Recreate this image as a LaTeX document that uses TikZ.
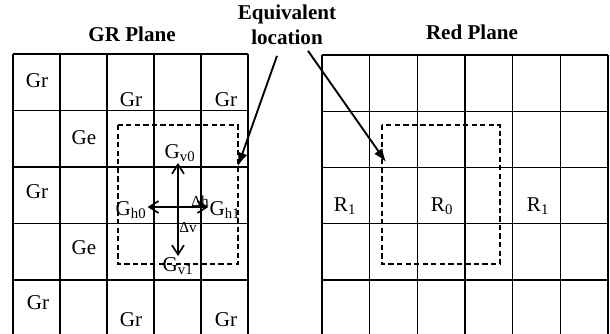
\documentclass[tikz,border=0pt]{standalone}
\usepackage{fontspec}
\setmainfont{Liberation Serif}
\usetikzlibrary{arrows.meta,calc}
\tikzset{
  gline/.style={black, line width=1.2pt},
  eqbox/.style={black, line width=1.8pt, dash pattern=on 4.5pt off 2.8pt},
  ptitle/.style={font=\fontsize{18}{20}\selectfont\bfseries, inner sep=1pt},
  clab/.style={font=\fontsize{18}{20}\selectfont, inner sep=1pt},
  dlab/.style={font=\fontsize{13}{14}\selectfont, inner sep=0pt},
  vecarr/.style={-{Straight Barb[length=2.8mm,width=3.6mm]}, line width=1.4pt},
  eqarr/.style={-{Latex[length=4mm,width=3mm]}, line width=1.6pt},
}

\begin{document}
\begin{tikzpicture}[x=0.03cm, y=-0.03cm]
  \useasboundingbox (0,0) rectangle (610,334);
  % GR plane grid
  \foreach \i in {0,...,5} \draw[gline] ({13+47*\i},54) -- ({13+47*\i},334);
  \foreach \j in {0,...,4} \draw[gline] (13,{54+56.5*\j}) -- (248,{54+56.5*\j});
  % Red plane grid
  \foreach \i in {0,...,6} \draw[gline] ({322+47.67*\i},55) -- ({322+47.67*\i},334);
  \foreach \j in {0,...,4} \draw[gline] (322,{55+56.25*\j}) -- (608,{55+56.25*\j});
  % equivalent windows
  \draw[eqbox] (118,125) rectangle (238,264);
  \draw[eqbox] (382,125) rectangle (500,264);

  % titles
  \node[ptitle] (grt) at (132,34) {GR Plane};
  \node[ptitle] (redt) at (472,32) {Red Plane};
  \node[ptitle] (eqt) at (287,14) {Equivalent};
  \node[ptitle] (loc) at (287,37) {location};

  % GR plane samples
  \node[clab] (gr11) at (37,81) {Gr};
  \node[clab] (gr13) at (131,100) {Gr};
  \node[clab] (gr15) at (226,100) {Gr};
  \node[clab] (ge22) at (84,138) {Ge};
  \node[clab] (gr31) at (37,192) {Gr};
  \node[clab] (ge42) at (84,248) {Ge};
  \node[clab] (gr51) at (38,303) {Gr};
  \node[clab] (gr53) at (131,320) {Gr};
  \node[clab] (gr55) at (226,320) {Gr};

  % neighbours of the missing sample
  \node[clab] (gv0) at (180,153) {G\textsubscript{v0}};
  \node[clab] (gv1) at (178,266) {G\textsubscript{v1}};
  \node[clab] (gh0) at (131,210) {G\textsubscript{h0}};
  \node[clab] (gh1) at (225,210) {G\textsubscript{h1}};
  \coordinate (ctr) at (178,207);
  \draw[vecarr] (ctr) -- (ctr |- gv0.south);
  \draw[vecarr] (ctr) -- (ctr |- gv1.north);
  \draw[vecarr] (ctr) -- (gh0.east |- ctr);
  \draw[vecarr] (ctr) -- (gh1.west |- ctr);
  \node[dlab] (dh) at (200,201) {Δh};
  \node[dlab] (dv) at (188,228) {Δv};

  % Red plane samples
  \node[clab] (rm1) at (345,206) {R\textsubscript{1}};
  \node[clab] (r0) at (442,206) {R\textsubscript{0}};
  \node[clab] (rp1) at (538,206) {R\textsubscript{1}};

  % equivalent location pointers
  \coordinate (eqG) at (238,166);
  \coordinate (eqR) at (386,162);
  \draw[eqarr] ($(loc.south)+(-10,10)$) -- (eqG);
  \draw[eqarr] ($(loc.south)+(21,5)$) -- (eqR);
\end{tikzpicture}
\end{document}
